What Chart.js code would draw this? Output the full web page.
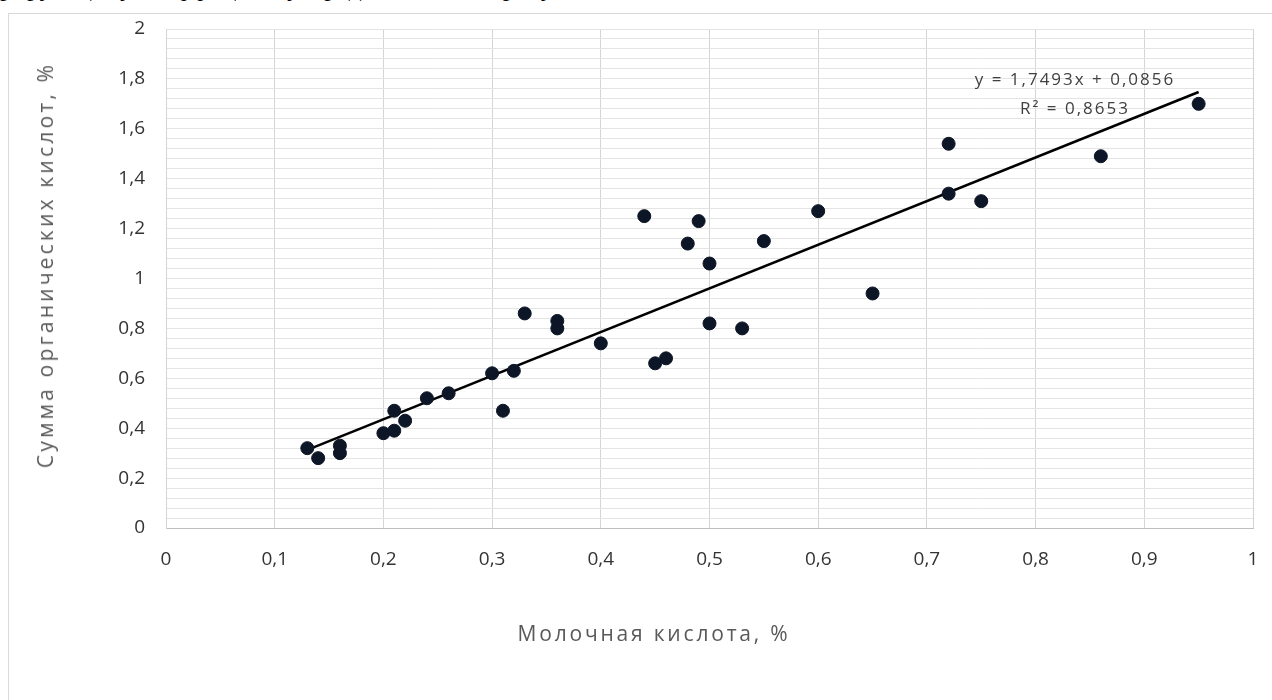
<!DOCTYPE html>
<html>
<head>
<meta charset="utf-8">
<script src="https://cdn.jsdelivr.net/npm/chart.js@4"></script>
<style>
    html, body { margin: 0; padding: 0; background: #fff; overflow: hidden; }
    body { width: 1272px; height: 700px; position: relative; font-family: "Open Sans", sans-serif; }
    #doc-line { position: absolute; left: 0; top: -27px; font: 26px "Liberation Serif", serif; color: #000; white-space: nowrap; }
    #frame { position: absolute; left: 8px; top: 13px; width: 1300px; height: 720px; border: 1px solid #d9d9d9; }
    #chart { position: absolute; left: 0; top: 0; }
    .axis-title { position: absolute; color: #595959; font-size: 21px; white-space: nowrap; }
    #x-title { left: 454px; width: 400px; top: 619px; text-align: center; letter-spacing: 2.8px; }
    #y-title { left: 45px; top: 265px; transform: translate(-50%, -50%) rotate(-90deg); letter-spacing: 3.2px; }
    #equation { position: absolute; left: 965px; width: 220px; top: 64px; text-align: center; color: #404040; font-size: 17px; letter-spacing: 2px; line-height: 29px; }
</style>
</head>
<body>
<div id="doc-line">рирующему коэффициенту, представлены на рисунке 4.</div>
<div id="frame"></div>
<canvas id="chart" width="1272" height="700"></canvas>
<div class="axis-title" id="y-title">Сумма органических кислот, %</div>
<div class="axis-title" id="x-title">Молочная кислота, %</div>
<div id="equation">y = 1,7493x + 0,0856<br>R² = 0,8653</div>
<script>
// молочная кислота, % (ось X)
const lacticAcid = [0.13, 0.14, 0.16, 0.16, 0.20, 0.21, 0.21, 0.22, 0.24, 0.26, 0.30, 0.31, 0.32, 0.33, 0.36, 0.36, 0.40,
    0.44, 0.45, 0.46, 0.48, 0.49, 0.50, 0.50, 0.53, 0.55, 0.60, 0.65, 0.72, 0.72, 0.75, 0.86, 0.95];
// сумма органических кислот, % (ось Y)
const organicAcids = [0.32, 0.28, 0.33, 0.30, 0.38, 0.47, 0.39, 0.43, 0.52, 0.54, 0.62, 0.47, 0.63, 0.86, 0.83, 0.80, 0.74,
    1.25, 0.66, 0.68, 1.14, 1.23, 1.06, 0.82, 0.80, 1.15, 1.27, 0.94, 1.54, 1.34, 1.31, 1.49, 1.70];
const trendSlope = 1.7493;
const trendIntercept = 0.0856;
const xTicks = { min: 0, max: 1, step: 0.1 };
const yTicks = { min: 0, max: 2, step: 0.04, labelStep: 0.2 };

const points = lacticAcid.map((x, i) => ({ x, y: organicAcids[i] }));
const xMin = Math.min(...lacticAcid);
const xMax = Math.max(...lacticAcid);
const trend = [xMin, xMax].map((x) => ({ x, y: trendSlope * x + trendIntercept }));

const fmt = (v) => String(Math.round(v * 10) / 10).replace(".", ",");
const tickFont = { family: "Open Sans", size: 19 };

new Chart(document.getElementById("chart"), {
    type: "scatter",
    data: {
        datasets: [
            {
                data: points,
                backgroundColor: "#0d1626",
                borderColor: "#0d1626",
                pointRadius: 6.5,
                pointHoverRadius: 6.5
            },
            {
                type: "line",
                data: trend,
                borderColor: "#000",
                borderWidth: 2.5,
                pointRadius: 0,
                fill: false
            }
        ]
    },
    options: {
        responsive: false,
        animation: false,
        layout: { padding: { left: 0, top: 29, right: 19, bottom: 0 } },
        plugins: { legend: { display: false }, tooltip: { enabled: false } },
        scales: {
            x: {
                type: "linear",
                min: xTicks.min,
                max: xTicks.max,
                afterFit: (scale) => {
                    scale.height = 172;
                    scale.paddingLeft = 0;
                    scale.paddingRight = 0;
                },
                ticks: { stepSize: xTicks.step, padding: 20, color: "#333", font: tickFont, callback: fmt, maxRotation: 0 },
                grid: { color: "#d4d4d4", drawTicks: false },
                border: { color: "#bfbfbf" }
            },
            y: {
                min: yTicks.min,
                max: yTicks.max,
                afterFit: (scale) => {
                    scale.width = 166;
                    scale.paddingTop = 0;
                    scale.paddingBottom = 0;
                },
                ticks: {
                    stepSize: yTicks.step,
                    autoSkip: false,
                    padding: 21,
                    color: "#333",
                    font: tickFont,
                    callback: (v) => (Math.round(v * 100) % Math.round(yTicks.labelStep * 100) === 0 ? fmt(v) : "")
                },
                grid: { color: "#e4e4e4", drawTicks: false },
                border: { color: "#d4d4d4" }
            }
        }
    }
});
</script>
</body>
</html>
